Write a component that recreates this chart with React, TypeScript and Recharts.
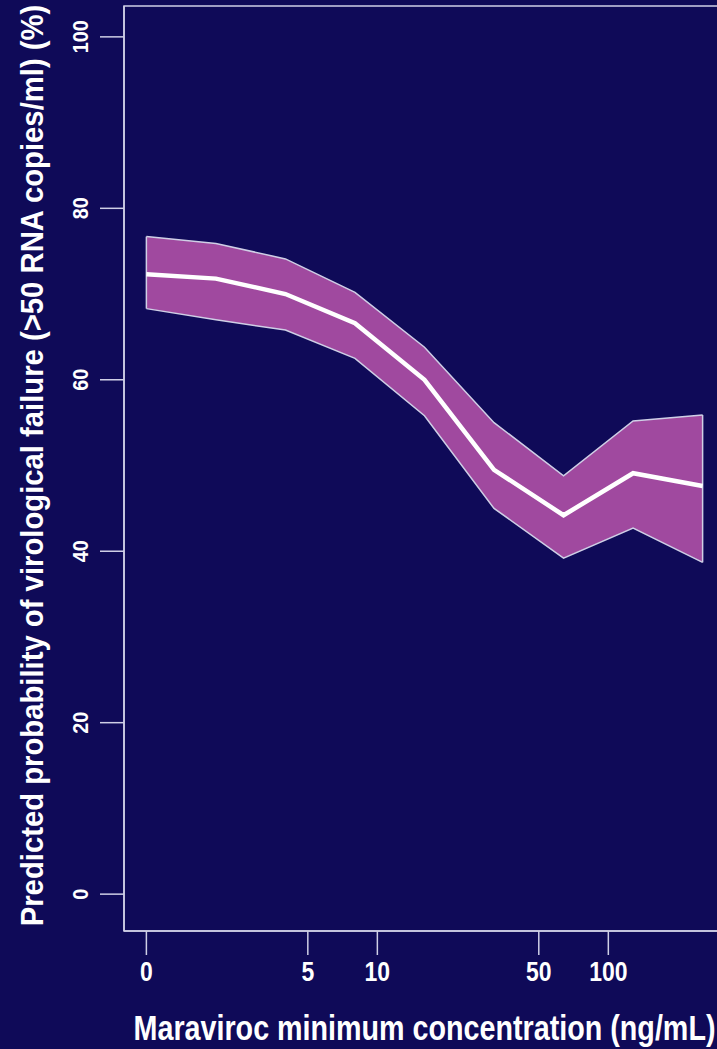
import { Area, ComposedChart, Line, ReferenceArea, ReferenceLine, XAxis, YAxis } from 'recharts';

const concentration = [1, 2, 4, 8, 16, 32, 64, 128, 256];
const predicted = [72.3, 71.8, 70.0, 66.6, 60.0, 49.5, 44.2, 49.1, 47.6];
const lowerCI = [68.3, 67.0, 65.8, 62.5, 55.8, 45.0, 39.2, 42.7, 38.7];
const upperCI = [76.7, 75.9, 74.1, 70.2, 63.8, 55.0, 48.8, 55.2, 55.9];

const xTicks = [1, 5, 10, 50, 100];
const xTickLabels = ['0', '5', '10', '50', '100'];
const yTicks = [0, 20, 40, 60, 80, 100];

const xTitle = 'Maraviroc minimum concentration (ng/mL)';
const yTitle = 'Predicted probability of virological failure (>50 RNA copies/ml) (%)';

const BG = '#0f0a58';
const BAND = '#a0499f';
const FRAME = '#cfcfe6';
// no Arial Narrow here, so squeeze Liberation Sans bold instead
const FONT = "'Liberation Sans', Arial, sans-serif";
const NARROW = 0.82;

const X_DOMAIN: [number, number] = [0.8, 320];
const Y_DOMAIN: [number, number] = [-4.3, 103.6];

const data = concentration.map((c, i) => ({
  conc: c,
  mid: predicted[i],
  band: [lowerCI[i], upperCI[i]],
}));

function NarrowText({ x, y, angle = 0, size, squeeze = NARROW, children, ...rest }: any) {
  return (
    <text
      transform={`translate(${x}, ${y}) rotate(${angle}) scale(${squeeze}, 1)`}
      textAnchor="middle"
      fill="#ffffff"
      fontSize={size}
      fontWeight="bold"
      fontFamily={FONT}
      {...rest}
    >
      {children}
    </text>
  );
}

function XTick({ x, y, payload }: any) {
  const idx = xTicks.indexOf(payload.value);
  return (
    <NarrowText x={x} y={y} size={28} dy="0.72em">
      {idx >= 0 ? xTickLabels[idx] : payload.value}
    </NarrowText>
  );
}

function YTick({ x, y, payload }: any) {
  return (
    <NarrowText x={x} y={y} angle={-90} size={22} squeeze={0.9}>
      {payload.value}
    </NarrowText>
  );
}

function XTitle({ viewBox }: any) {
  const { x, y, width, height } = viewBox;
  return (
    <NarrowText x={x + width / 2} y={y + height - 1} size={35}>
      {xTitle}
    </NarrowText>
  );
}

function YTitle({ viewBox }: any) {
  const { x, y, height } = viewBox;
  return (
    <NarrowText x={x + 32} y={y + height / 2 - 3} angle={-90} size={30.5} squeeze={0.96} dy="0.36em">
      {yTitle}
    </NarrowText>
  );
}

export default function App() {
  const first = 0;
  const last = concentration.length - 1;
  return (
    <div style={{ position: 'absolute', left: 0, top: 0, width: 717, height: 1049, overflow: 'hidden', background: BG }}>
      <ComposedChart width={740} height={1049} data={data} margin={{ left: 0, right: 15, top: 6, bottom: 8 }}>
        <ReferenceArea x1={X_DOMAIN[0]} x2={X_DOMAIN[1]} y1={Y_DOMAIN[0]} y2={Y_DOMAIN[1]} fill="none" stroke={FRAME} strokeWidth={1.5} />
        <XAxis
          dataKey="conc"
          type="number"
          scale="log"
          domain={X_DOMAIN}
          allowDataOverflow
          ticks={xTicks}
          tick={<XTick />}
          tickSize={24}
          tickMargin={6}
          tickLine={{ stroke: FRAME, strokeWidth: 1.5 }}
          axisLine={{ stroke: FRAME, strokeWidth: 1.5 }}
          height={110}
          label={<XTitle />}
        />
        <YAxis
          type="number"
          domain={Y_DOMAIN}
          allowDataOverflow
          ticks={yTicks}
          tick={<YTick />}
          tickSize={24}
          tickMargin={12}
          tickLine={{ stroke: FRAME, strokeWidth: 1.5 }}
          axisLine={{ stroke: FRAME, strokeWidth: 1.5 }}
          width={124}
          label={<YTitle />}
        />
        <Area
          type="linear"
          dataKey="band"
          fill={BAND}
          fillOpacity={1}
          stroke={FRAME}
          strokeWidth={1.5}
          isAnimationActive={false}
        />
        <ReferenceLine
          segment={[{ x: concentration[first], y: lowerCI[first] }, { x: concentration[first], y: upperCI[first] }]}
          stroke={FRAME}
          strokeWidth={1.5}
        />
        <ReferenceLine
          segment={[{ x: concentration[last], y: lowerCI[last] }, { x: concentration[last], y: upperCI[last] }]}
          stroke={FRAME}
          strokeWidth={1.5}
        />
        <Line type="linear" dataKey="mid" stroke="#ffffff" strokeWidth={4.5} dot={false} isAnimationActive={false} />
      </ComposedChart>
    </div>
  );
}
